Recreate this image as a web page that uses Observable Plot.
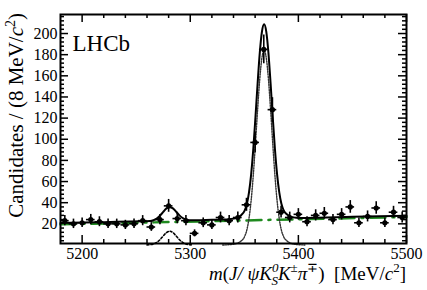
<!DOCTYPE html>
<html>
<head>
<meta charset="utf-8">
<script src="https://cdn.jsdelivr.net/npm/d3@7"></script>
<script src="https://cdn.jsdelivr.net/npm/@observablehq/plot@0.6"></script>
<style>
  html, body { margin: 0; padding: 0; background: white; }
  #chart { width: 427px; height: 290px; }
</style>
</head>
<body>
<div id="chart"></div>
<script>
// ---- data ----
const massBins = [5184,5192,5200,5208,5216,5224,5232,5240,5248,5256,5264,5272,5280,5288,5296,5304,5312,5320,5328,5336,
                  5344,5352,5360,5368,5376,5384,5392,5400,5408,5416,5424,5432,5440,5448,5456,5464,5472,5480,5488,5496];
const candidates = [23,20,21,24,22,20,20,19,20,23,17,24,37,25,23,11,21,19,26,23,
                    26,38,97,185,128,31,26,29,22,28,30,24,29,36,21,27,35,21,31,26];
const binHalfWidth = 4;

// total fit (solid black)
const totalMass = [5180,5220,5256,5263,5266,5269,5272,5275,5278,5281,5284,5287,5290,5293,5296,5299,5305,5320,5330,5338,5343,
                   5347.3,5350.3,5352.3,5354.3,5356.3,5358.3,5360.3,5362.3,5364.3,5366.3,5368.3,5370.3,5372.3,5374.3,5376.3,
                   5378.3,5380.3,5382.3,5384.3,5386.3,5389.3,5393.3,5398,5406,5450,5500];
const totalFit = [20.7,21.6,22.4,22.6,23.4,25.0,27.7,31.3,34.6,35.8,34.6,31.4,28.0,25.5,24.0,23.5,23.4,23.8,24.0,24.7,25.8,
                  28.4,32.4,38.5,49.5,66.6,90.6,120.7,152.7,181.7,201.7,208.7,201.8,181.8,152.9,120.9,
                  91,67,50,39,33,29,26.6,25.8,25.6,26.6,27.7];

// Bs0 signal component (dotted)
const bsMass = [5330,5338,5343,5347.3,5350.3,5352.3,5354.3,5356.3,5358.3,5360.3,5362.3,5364.3,5366.3,5368.3,5370.3,5372.3,
                5374.3,5376.3,5378.3,5380.3,5382.3,5384.3,5386.3,5389.3,5393.3,5398,5406];
const bsSignal = [0,0.5,1.5,4,8,14,25,42,66,96,128,157,177,184,177,157,128,96,66,42,25,14,8,4,1.5,0.5,0];

// B0 component (dotted)
const b0Mass = [5260,5263,5266,5269,5272,5275,5278,5281,5284,5287,5290,5293,5296,5299,5302];
const b0Signal = [0.1,0.3,0.9,2.4,5,8.5,11.7,13,11.7,8.5,5,2.4,0.9,0.3,0.1];

// combinatorial background (green dashed)
const bkgMass = [5180,5500];
const bkgFit = [19.5,26.5];

// axes
const xMajorTicks = [5200,5300,5400,5500];
const yMajorTicks = [20,40,60,80,100,120,140,160,180,200];
const xDomain = [5180,5500];
const yDomain = [1.4,218];

// ---- build ----
const points = massBins.map((m,i) => ({m, n: candidates[i], e: Math.sqrt(candidates[i])}));
const total = totalMass.map((m,i) => ({m, v: totalFit[i]}));
const bs = bsMass.map((m,i) => ({m, v: bsSignal[i]}));
const b0 = b0Mass.map((m,i) => ({m, v: b0Signal[i]}));
const bkg = bkgMass.map((m,i) => ({m, v: bkgFit[i]}));

const xMinor = d3.range(xDomain[0]+20, xDomain[1], 20).filter(v => !xMajorTicks.includes(v));
const yMinor = d3.range(4, yDomain[1], 4).filter(v => !yMajorTicks.includes(v));

const W = 427, H = 290;
const mL = 60, mR = 21, mT = 14, mB = 47;
const frameW = W - mL - mR, frameH = H - mT - mB;
const majLen = 8, minLen = 4;
const green = "#1f8a1f";

const chart = Plot.plot({
  width: W, height: H,
  marginLeft: mL, marginRight: mR, marginTop: mT, marginBottom: mB,
  style: {fontFamily: "Liberation Serif", fontSize: "16px", background: "white", color: "black"},
  x: {domain: xDomain, ticks: xMajorTicks, tickSize: 0, tickPadding: 4, tickFormat: d => String(d), label: null},
  y: {domain: yDomain, ticks: yMajorTicks, tickSize: 0, tickPadding: 3, tickFormat: d => String(d), label: null},
  marks: [
    // ticks inside the frame, on all four sides
    Plot.ruleX(xMajorTicks, {x: d => d, insetTop: frameH - majLen, strokeWidth: 1.5}),
    Plot.ruleX(xMajorTicks, {x: d => d, insetBottom: frameH - majLen, strokeWidth: 1.5}),
    Plot.ruleX(xMinor, {x: d => d, insetTop: frameH - minLen, strokeWidth: 1.5}),
    Plot.ruleX(xMinor, {x: d => d, insetBottom: frameH - minLen, strokeWidth: 1.5}),
    Plot.ruleY(yMajorTicks, {y: d => d, insetRight: frameW - majLen, strokeWidth: 1.5}),
    Plot.ruleY(yMajorTicks, {y: d => d, insetLeft: frameW - majLen, strokeWidth: 1.5}),
    Plot.ruleY(yMinor, {y: d => d, insetRight: frameW - minLen, strokeWidth: 1.5}),
    Plot.ruleY(yMinor, {y: d => d, insetLeft: frameW - minLen, strokeWidth: 1.5}),
    // fit components
    Plot.line(bkg, {x: "m", y: "v", stroke: green, strokeWidth: 2.5, strokeDasharray: "15,7,2,7"}),
    Plot.line(b0, {x: "m", y: "v", stroke: "black", strokeWidth: 1.6, strokeDasharray: "2,2", curve: "monotone-x"}),
    Plot.line(bs, {x: "m", y: "v", stroke: "#333", strokeWidth: 1.4, strokeDasharray: "1.3,1.3", curve: "monotone-x"}),
    Plot.line(total, {x: "m", y: "v", stroke: "black", strokeWidth: 2, curve: "monotone-x"}),
    // data points with errors
    Plot.ruleX(points, {x: "m", y1: d => d.n - d.e, y2: d => d.n + d.e, stroke: "black", strokeWidth: 1.6}),
    Plot.ruleY(points, {y: "n", x1: d => d.m - binHalfWidth, x2: d => d.m + binHalfWidth, stroke: "black", strokeWidth: 1.6}),
    Plot.dot(points, {x: "m", y: "n", r: 2.6, fill: "black", stroke: "none"}),
    // label
    Plot.text(["LHCb"], {frameAnchor: "top-left", dx: 12, dy: 29.5, textAnchor: "start", lineAnchor: "middle",
                         fontSize: 23, fontFamily: "Liberation Serif", fill: "black"}),
    Plot.frame({stroke: "black", strokeWidth: 2})
  ]
});

document.getElementById("chart").appendChild(chart);

// axis titles with rich text
const svg = d3.select(chart);
const xt = svg.append("text")
  .attr("x", 406).attr("y", 280)
  .attr("text-anchor", "end")
  .attr("font-family", "Liberation Serif")
  .attr("font-size", 19)
  .attr("fill", "black");
xt.append("tspan").attr("font-style", "italic").text("m");
xt.append("tspan").text("(");
xt.append("tspan").attr("font-style", "italic").text("J/ \u03c8K");
xt.append("tspan").attr("font-style", "italic").attr("font-size", 13).attr("dy", -8).text("0");
xt.append("tspan").attr("font-style", "italic").attr("font-size", 13).attr("dx", -7).attr("dy", 13).text("S");
xt.append("tspan").attr("font-style", "italic").attr("dy", -5).text("K");
xt.append("tspan").attr("font-size", 13).attr("dy", -8).text("\u00b1");
xt.append("tspan").attr("font-style", "italic").attr("dy", 8).text("\u03c0");
xt.append("tspan").attr("font-size", 13).attr("dy", -8).text("\u2213");
xt.append("tspan").attr("dy", 8).text(")\u00a0\u00a0[MeV/");
xt.append("tspan").attr("font-style", "italic").text("c");
xt.append("tspan").attr("font-size", 13).attr("dy", -8).text("2");
xt.append("tspan").attr("dy", 8).text("]");

const yt = svg.append("text")
  .attr("transform", "translate(23,13) rotate(-90)")
  .attr("text-anchor", "end")
  .attr("font-family", "Liberation Serif")
  .attr("font-size", 21)
  .attr("fill", "black");
yt.append("tspan").text("Candidates / (8 MeV/");
yt.append("tspan").attr("font-style", "italic").text("c");
yt.append("tspan").attr("font-size", 14).attr("dy", -8).text("2");
yt.append("tspan").attr("dy", 8).text(")");
</script>
</body>
</html>
